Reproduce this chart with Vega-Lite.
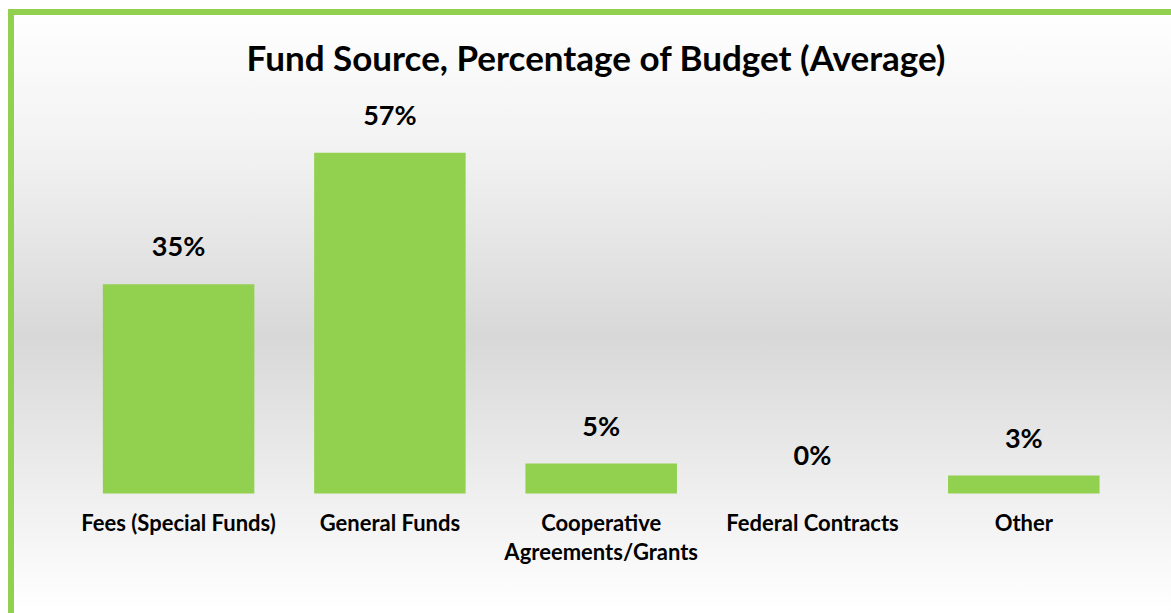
{
  "$schema": "https://vega.github.io/schema/vega-lite/v6.json",
  "autosize": {"type": "none"},
  "padding": {"left": 11, "top": 12, "right": 0, "bottom": 0},
  "width": 1170,
  "height": 612,
  "background": "#ffffff",
  "title": {
    "text": "Fund Source, Percentage of Budget (Average)",
    "frame": "group",
    "anchor": "middle",
    "baseline": "alphabetic",
    "offset": -94,
    "font": "Lato",
    "fontSize": 35,
    "fontWeight": "bold",
    "color": "#000000"
  },
  "data": {
    "values": [
      {"source": "Fees (Special Funds)", "label": "Fees (Special Funds)", "share": 0.35},
      {"source": "General Funds", "label": "General Funds", "share": 0.57},
      {"source": "Cooperative Agreements/Grants", "label": "Cooperative\nAgreements/Grants", "share": 0.05},
      {"source": "Federal Contracts", "label": "Federal Contracts", "share": 0.0},
      {"source": "Other", "label": "Other", "share": 0.03}
    ]
  },
  "encoding": {
    "x": {
      "field": "source",
      "type": "nominal",
      "sort": null,
      "axis": null,
      "scale": {"paddingInner": 0.283, "paddingOuter": 0.41, "align": 0.53}
    }
  },
  "layer": [
    {
      "mark": {"type": "bar", "color": "#92D050"},
      "encoding": {
        "y": {
          "field": "share",
          "type": "quantitative",
          "axis": null,
          "scale": {"domain": [-0.2183, 0.8053], "nice": false, "zero": false}
        },
        "y2": {"datum": 0}
      }
    },
    {
      "mark": {
        "type": "text",
        "font": "Lato",
        "fontSize": 27,
        "fontWeight": "bold",
        "color": "#000000",
        "baseline": "alphabetic",
        "dy": -28
      },
      "encoding": {
        "y": {"field": "share", "type": "quantitative"},
        "text": {"field": "share", "type": "quantitative", "format": ".0%"}
      }
    },
    {
      "mark": {
        "type": "text",
        "font": "Lato",
        "fontSize": 22,
        "fontWeight": "bold",
        "color": "#000000",
        "baseline": "alphabetic",
        "lineBreak": "\n",
        "lineHeight": 28.6,
        "dy": 38
      },
      "encoding": {
        "y": {"datum": 0, "type": "quantitative"},
        "text": {"field": "label"}
      }
    }
  ],
  "config": {
    "view": {
      "fill": {
        "gradient": "linear",
        "x1": 0, "y1": 0, "x2": 0, "y2": 1,
        "stops": [
          {"offset": 0, "color": "#ffffff"},
          {"offset": 0.25, "color": "#f0f0f0"},
          {"offset": 0.53, "color": "#d8d8d8"},
          {"offset": 0.8, "color": "#f0f0f0"},
          {"offset": 0.98, "color": "#ffffff"}
        ]
      },
      "stroke": "#92D050",
      "strokeWidth": 6
    }
  }
}
